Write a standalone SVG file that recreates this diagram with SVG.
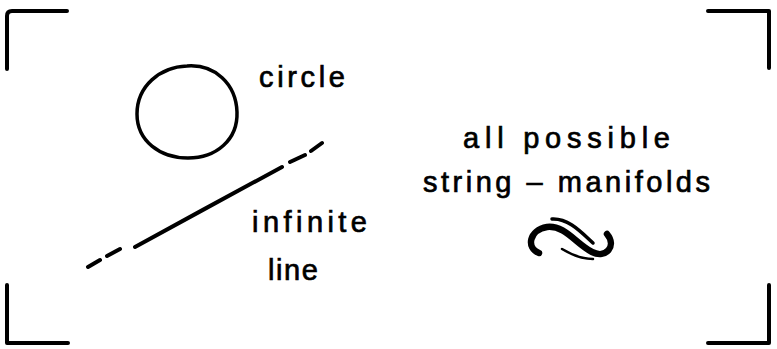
<svg xmlns="http://www.w3.org/2000/svg" width="777" height="349" viewBox="0 0 777 349">
<style>
.ink{fill:none;stroke:#000;stroke-linecap:round;stroke-linejoin:round}
.br{stroke-width:4}
.t{font-family:"Liberation Sans","DejaVu Sans",sans-serif;fill:#000;stroke:#000;stroke-width:0.7;font-size:29px}
</style>
<rect width="777" height="349" fill="#fff"/>
<g id="frame">
<path class="ink br" d="M7 69 L7 16 Q7 11 12 11 L67 11"/>
<path class="ink br" d="M708 11 L769 11 L769 68"/>
<path class="ink br" d="M7 285 L7 343 L68 343"/>
<path class="ink br" d="M769 285 L769 343 L708 343"/>
</g>
<g id="circle">
<path class="ink" stroke-width="3.5" d="M187 66 C215 64 236 84 237 112 C238 140 216 158 188 158 C160 158 137 141 137 114 C137 86 160 67 187 66 Z"/>
<text class="t" x="259" y="87" textLength="86" lengthAdjust="spacing">circle</text>
</g>
<g id="line">
<path class="ink" stroke-width="4" d="M88 267 L100 260 M107 256 L120 249 M135 247 C180 222 240 190 282 167 M290 162 L305 155 M311 151 L322 143"/>
<text class="t" x="252" y="232" textLength="115" lengthAdjust="spacing">infinite</text>
<text class="t" x="268" y="280" textLength="50" lengthAdjust="spacing">line</text>
</g>
<g id="manifolds">
<text class="t" x="463" y="148" textLength="207" lengthAdjust="spacing">all  possible</text>
<text class="t" x="423" y="192" textLength="287" lengthAdjust="spacing">string – manifolds</text>
<path class="ink" stroke-width="6.5" d="M539 253 C526 248 529 230 547 227 C565 225 576 244 592 252 C606 259 617 246 607 234"/>
<path class="ink" stroke-width="3.5" d="M552 219 C568 218 581 232 593 243"/>
<path class="ink" stroke-width="2.5" d="M562 249 C572 255 582 259 593 259"/>
</g>
</svg>
